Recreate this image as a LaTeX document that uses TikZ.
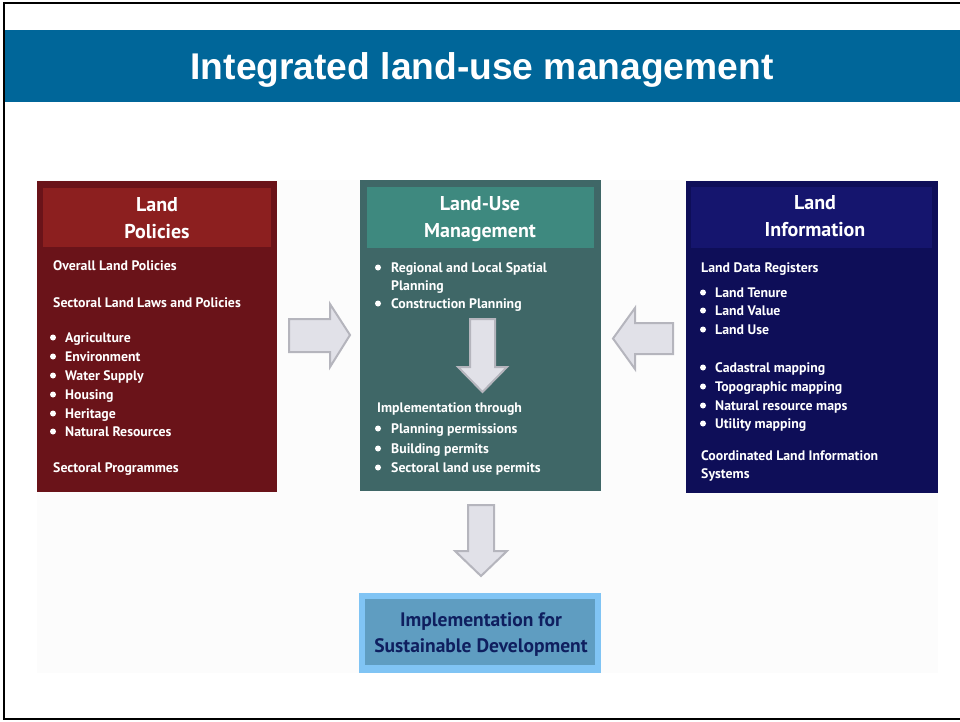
\documentclass[tikz,border=0pt]{standalone}
\usepackage{fontspec}
\setmainfont{PT Sans}
\newfontfamily\titlefont{Liberation Sans}
\definecolor{banner}{HTML}{006699}
\definecolor{lpout}{HTML}{6A1319}
\definecolor{lphead}{HTML}{8C1F1F}
\definecolor{luout}{HTML}{3F6767}
\definecolor{luhead}{HTML}{3E897F}
\definecolor{liout}{HTML}{0E0E58}
\definecolor{lihead}{HTML}{15156E}
\definecolor{sdout}{HTML}{80C4F4}
\definecolor{sdin}{HTML}{5F9DC1}
\definecolor{sdtext}{HTML}{0F1F5F}
\definecolor{arrfill}{HTML}{E1E1E8}
\definecolor{arrline}{HTML}{B5B5BD}
\definecolor{panel}{HTML}{FCFCFC}
\tikzset{
  boxfill/.style={inner sep=0pt, outer sep=0pt, draw=none},
  headtxt/.style={text=white, font=\bfseries\fontsize{20}{27}\selectfont, align=center, inner sep=0pt},
  bodytxt/.style={text=white, font=\bfseries\fontsize{13.8}{19}\selectfont, anchor=base west, inner sep=0pt},
  bul/.style={circle, fill=white, inner sep=0pt, minimum size=6pt},
  blockarrow/.style={fill=arrfill, draw=arrline, line width=2pt, line join=miter},
}
\newcommand\btxt[4]{\node[bodytxt] (#1) at (#2,#3) {#4};}
\newcommand\bitem[5]{\node[bul] (#1b) at (#2,#3-4.5) {};\node[bodytxt] (#1) at (#4,#3) {#5};}
\begin{document}
\begin{tikzpicture}[x=1pt,y=-1pt]
\useasboundingbox (0,0) rectangle (960,721);
\fill[white] (0,0) rectangle (960,721);
% frame
\draw[line width=2pt, black] (960,3) -- (4,3) -- (4,719) -- (960,719);
% banner
\fill[banner] (5,30) rectangle (960,102);
\node[text=white, font=\titlefont\bfseries\fontsize{37.2}{40}\selectfont, anchor=base, inner sep=0pt] (title) at (482,79) {Integrated land-use management};
% light panel
\fill[panel] (37,180) rectangle (938,673);

% Land Policies box
\fill[lpout] (37,181) rectangle (277,492);
\fill[lphead] (43,188) rectangle (271,247);
\node[boxfill, minimum width=240pt, minimum height=311pt] (lp) at (157,336.5) {};
\node[headtxt] (lph) at (157,218) {Land\\Policies};
\btxt{lp1}{53}{270}{Overall Land Policies}
\btxt{lp2}{53}{307}{Sectoral Land Laws and Policies}
\bitem{lp3}{53}{342}{65}{Agriculture}
\bitem{lp4}{53}{361}{65}{Environment}
\bitem{lp5}{53}{380}{65}{Water Supply}
\bitem{lp6}{53}{399}{65}{Housing}
\bitem{lp7}{53}{418}{65}{Heritage}
\bitem{lp8}{53}{436}{65}{Natural Resources}
\btxt{lp9}{53}{472}{Sectoral Programmes}

% Land-Use Management box
\fill[luout] (360,180) rectangle (601,491);
\fill[luhead] (367,187) rectangle (594,248);
\node[boxfill, minimum width=241pt, minimum height=311pt] (lu) at (480.5,335.5) {};
\node[headtxt] (luh) at (480,219) {Land-Use\\Management};
\bitem{lu1}{378}{272}{391}{Regional and Local Spatial}
\btxt{lu2}{391}{290}{Planning}
\bitem{lu3}{378}{308}{391}{Construction Planning}
\btxt{lu4}{377}{412}{Implementation through}
\bitem{lu5}{378}{433}{391}{Planning permissions}
\bitem{lu6}{378}{453}{391}{Building permits}
\bitem{lu7}{378}{472}{391}{Sectoral land use permits}

% Land Information box
\fill[liout] (686,181) rectangle (938,493);
\fill[lihead] (691,187) rectangle (932,248);
\node[boxfill, minimum width=252pt, minimum height=312pt] (li) at (812,337) {};
\node[headtxt] (lih) at (815,216.5) {Land\\Information};
\btxt{li1}{701}{272}{Land Data Registers}
\bitem{li2}{703}{297}{715}{Land Tenure}
\bitem{li3}{703}{315}{715}{Land Value}
\bitem{li4}{703}{334}{715}{Land Use}
\bitem{li5}{703}{372}{715}{Cadastral mapping}
\bitem{li6}{703}{391}{715}{Topographic mapping}
\bitem{li7}{703}{410}{715}{Natural resource maps}
\bitem{li8}{703}{428}{715}{Utility mapping}
\btxt{li9}{701}{460}{Coordinated Land Information}
\btxt{li10}{701}{478}{Systems}

% Sustainable development box
\fill[sdout] (359,593) rectangle (601,673);
\fill[sdin] (365,599) rectangle (595,665);
\node[boxfill, minimum width=242pt, minimum height=80pt] (sd) at (480,633) {};
\node[text=sdtext, font=\bfseries\fontsize{19.5}{26.5}\selectfont, align=center, inner sep=0pt] (sdt) at (481,634.5) {Implementation for\\Sustainable Development};

% block arrows
\draw[blockarrow] (289,319) -- (330,319) -- (330,304) -- (350,335) -- (330,367) -- (330,352) -- (289,352) -- cycle;
\draw[blockarrow] (673,323) -- (635,323) -- (635,308) -- (613,338.5) -- (635,369) -- (635,354) -- (673,354) -- cycle;
\draw[blockarrow] (470,319) -- (495,319) -- (495,367) -- (507,367) -- (482.5,392) -- (458,367) -- (470,367) -- cycle;
\draw[blockarrow] (468,505) -- (494,505) -- (494,551) -- (507,551) -- (481,576) -- (455,551) -- (468,551) -- cycle;
\end{tikzpicture}
\end{document}
